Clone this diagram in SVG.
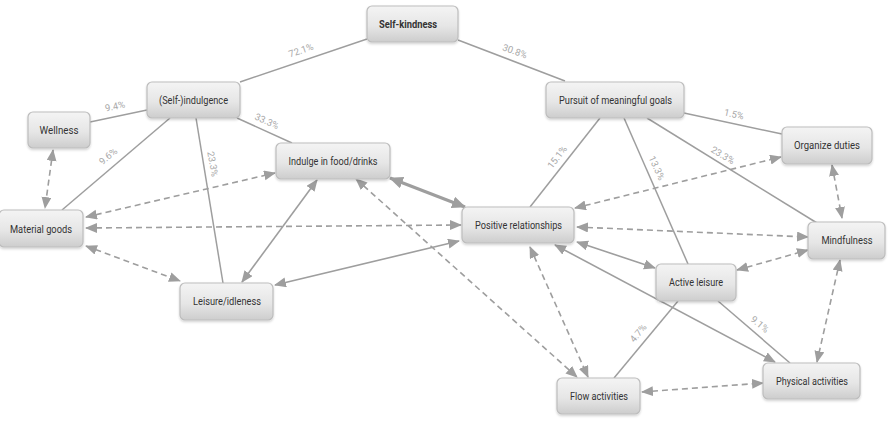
<svg xmlns="http://www.w3.org/2000/svg" width="894" height="422" viewBox="0 0 894 422">
<style>
.nd rect{fill:url(#g);stroke:#bdbdbd;stroke-width:1.2;filter:url(#sh)}
.nd text{font-family:Roboto,"Liberation Sans",sans-serif;font-size:11.2px;fill:#333;text-anchor:middle;dominant-baseline:central}
.ln{stroke:#9e9e9e;stroke-width:1.5;fill:none}
.ar{stroke:#9e9e9e;stroke-width:1.6;fill:none;marker-start:url(#ah);marker-end:url(#ah)}
.ds{stroke-dasharray:6 4}
.lb{font-family:Roboto,"Liberation Sans",sans-serif;font-size:9.5px;fill:#a8a8a8;text-anchor:middle;dominant-baseline:central}
</style>
<defs>
<linearGradient id="g" x1="0" y1="0" x2="0" y2="1">
<stop offset="0" stop-color="#f4f4f4"/>
<stop offset="0.55" stop-color="#e6e6e6"/>
<stop offset="1" stop-color="#cdcdcd"/>
</linearGradient>
<filter id="sh" x="-10%" y="-20%" width="120%" height="150%">
<feDropShadow dx="0" dy="1.5" stdDeviation="1.2" flood-color="#000" flood-opacity="0.18"/>
</filter>
<marker id="ah" markerUnits="userSpaceOnUse" markerWidth="13" markerHeight="11" refX="11" refY="5" orient="auto-start-reverse">
<path d="M0,0 L12,5 L0,10 z" fill="#9e9e9e"/>
</marker>
<marker id="ahb" markerUnits="userSpaceOnUse" markerWidth="15" markerHeight="13" refX="13" refY="6" orient="auto-start-reverse">
<path d="M0,0 L14,6 L0,12 z" fill="#9e9e9e"/>
</marker>
</defs>
<rect width="894" height="422" fill="#fff"/>
<g id="connectors">
<line class="ln" x1="367" y1="39" x2="240" y2="82"/>
<line class="ln" x1="458" y1="40" x2="565" y2="81"/>
<line class="ln" x1="147" y1="110" x2="90" y2="122"/>
<line class="ln" x1="170" y1="118" x2="62" y2="210"/>
<line class="ln" x1="196" y1="118" x2="223" y2="283"/>
<line class="ln" x1="237" y1="118" x2="292" y2="143"/>
<line class="ln" x1="684" y1="113" x2="782" y2="134"/>
<line class="ln" x1="600" y1="118" x2="530" y2="207"/>
<line class="ln" x1="624" y1="118" x2="688" y2="264"/>
<line class="ln" x1="647" y1="118" x2="817" y2="223"/>
<line class="ln" x1="678" y1="301" x2="614" y2="378"/>
<line class="ln" x1="718" y1="301" x2="790" y2="363"/>
<text class="lb" transform="translate(301,50) rotate(-19)">72.1%</text>
<text class="lb" transform="translate(515,51) rotate(20)">30.8%</text>
<text class="lb" transform="translate(115,106) rotate(-12)">9.4%</text>
<text class="lb" transform="translate(108,156) rotate(-40)">9.6%</text>
<text class="lb" transform="translate(213,164) rotate(80)">23.3%</text>
<text class="lb" transform="translate(267,121) rotate(24)">33.3%</text>
<text class="lb" transform="translate(734,114) rotate(12)">1.5%</text>
<text class="lb" transform="translate(557,157) rotate(-52)">15.1%</text>
<text class="lb" transform="translate(657,168) rotate(66)">13.3%</text>
<text class="lb" transform="translate(723,155) rotate(31)">23.3%</text>
<text class="lb" transform="translate(638,333) rotate(-50)">4.7%</text>
<text class="lb" transform="translate(760,324) rotate(40)">9.1%</text>
<line class="ar ds" x1="53" y1="150" x2="45" y2="208"/>
<line class="ar ds" x1="86" y1="217" x2="275" y2="173"/>
<line class="ar ds" x1="86" y1="228" x2="461" y2="225"/>
<line class="ar ds" x1="86" y1="246" x2="180" y2="281"/>
<line class="ar" x1="242" y1="282" x2="317" y2="180"/>
<line class="ar" x1="275" y1="285" x2="459" y2="241"/>
<line class="ar" style="stroke-width:3.2;marker-start:url(#ahb);marker-end:url(#ahb)" x1="390" y1="178" x2="465" y2="207"/>
<line class="ar ds" x1="356" y1="179" x2="577" y2="377"/>
<line class="ar ds" x1="530" y1="247" x2="588" y2="377"/>
<line class="ar ds" x1="575" y1="208" x2="781" y2="157"/>
<line class="ar ds" x1="577" y1="227" x2="808" y2="237"/>
<line class="ar" x1="577" y1="242" x2="655" y2="268"/>
<line class="ar" x1="555" y1="245" x2="775" y2="362"/>
<line class="ar ds" x1="737" y1="270" x2="808" y2="250"/>
<line class="ar ds" x1="832" y1="165" x2="842" y2="218"/>
<line class="ar ds" x1="840" y1="260" x2="817" y2="362"/>
<line class="ar ds" x1="642" y1="392" x2="763" y2="383"/>
</g>
<g id="self-kindness" class="nd"><rect x="367" y="6" width="91" height="36" rx="5"/><text x="408" y="24" style="font-weight:bold" textLength="58" lengthAdjust="spacingAndGlyphs">Self-kindness</text></g>
<g id="self-indulgence" class="nd"><rect x="147" y="82" width="93" height="36" rx="5"/><text x="193.5" y="100" textLength="69" lengthAdjust="spacingAndGlyphs">(Self-)indulgence</text></g>
<g id="wellness" class="nd"><rect x="28" y="112" width="62" height="36" rx="5"/><text x="59" y="130" textLength="39" lengthAdjust="spacingAndGlyphs">Wellness</text></g>
<g id="material-goods" class="nd"><rect x="-1" y="210" width="84" height="37" rx="5"/><text x="41" y="229" textLength="62" lengthAdjust="spacingAndGlyphs">Material goods</text></g>
<g id="leisure-idleness" class="nd"><rect x="180" y="283" width="93" height="37" rx="5"/><text x="227" y="301" textLength="68" lengthAdjust="spacingAndGlyphs">Leisure/idleness</text></g>
<g id="indulge-food" class="nd"><rect x="276" y="143" width="114" height="36" rx="5"/><text x="333" y="161" textLength="89" lengthAdjust="spacingAndGlyphs">Indulge in food/drinks</text></g>
<g id="positive-relationships" class="nd"><rect x="462" y="207" width="112" height="36" rx="5"/><text x="518.5" y="225" textLength="87" lengthAdjust="spacingAndGlyphs">Positive relationships</text></g>
<g id="pursuit" class="nd"><rect x="546" y="82" width="138" height="36" rx="5"/><text x="615.5" y="100" textLength="113" lengthAdjust="spacingAndGlyphs">Pursuit of meaningful goals</text></g>
<g id="organize-duties" class="nd"><rect x="782" y="127" width="90" height="37" rx="5"/><text x="827" y="145" textLength="66" lengthAdjust="spacingAndGlyphs">Organize duties</text></g>
<g id="mindfulness" class="nd"><rect x="808" y="222" width="77" height="37" rx="5"/><text x="847" y="240" textLength="51" lengthAdjust="spacingAndGlyphs">Mindfulness</text></g>
<g id="active-leisure" class="nd"><rect x="656" y="264" width="80" height="37" rx="5"/><text x="696" y="282" textLength="54" lengthAdjust="spacingAndGlyphs">Active leisure</text></g>
<g id="physical-activities" class="nd"><rect x="763" y="363" width="97" height="36" rx="5"/><text x="812" y="381" textLength="72" lengthAdjust="spacingAndGlyphs">Physical activities</text></g>
<g id="flow-activities" class="nd"><rect x="557" y="378" width="83" height="36" rx="5"/><text x="599" y="396" textLength="58" lengthAdjust="spacingAndGlyphs">Flow activities</text></g>
</svg>
